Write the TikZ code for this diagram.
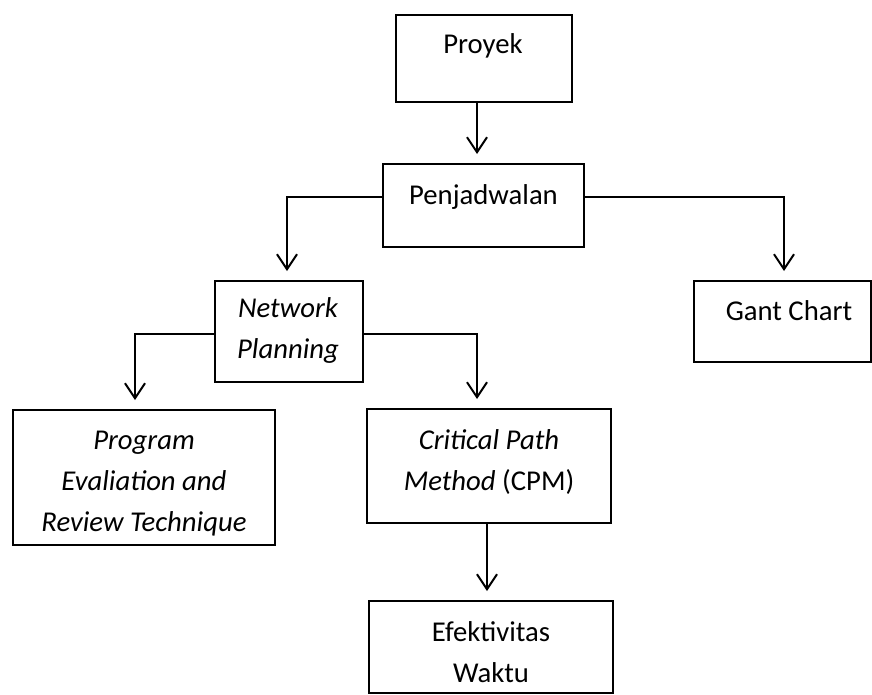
\documentclass[tikz,border=0pt]{standalone}
\usepackage{fontspec}
\setmainfont{Carlito}
\usetikzlibrary{arrows.meta}
\begin{document}
\begin{tikzpicture}[x=1pt,y=-1pt,
  box/.style={draw,line width=2pt,inner sep=0pt},
  lbl/.style={font=\fontsize{28.7}{41}\selectfont,align=center,inner sep=0pt,anchor=base},
  conn/.style={line width=2pt},
  arr/.style={line width=2pt,-{Straight Barb[length=15pt,width=20pt]},shorten >=9pt}]
\useasboundingbox (0,0) rectangle (872,694);
% boxes
\node[box,minimum width=176pt,minimum height=87pt] (proyek) at (484,58.5) {};
\node[box,minimum width=201pt,minimum height=83pt] (pen) at (483.5,205.5) {};
\node[box,minimum width=148pt,minimum height=101pt] (net) at (289,331.5) {};
\node[box,minimum width=177pt,minimum height=81pt] (gant) at (782,321.5) {};
\node[box,minimum width=262pt,minimum height=135pt] (prog) at (144,477.5) {};
\node[box,minimum width=244pt,minimum height=114pt] (cpm) at (489,466) {};
\node[box,minimum width=244pt,minimum height=92pt] (efek) at (491,647) {};
% texts (anchor = baseline of the last line)
\node[lbl] (tproyek) at (483,53) {Proyek};
\node[lbl] (tpen) at (483.5,204) {Penjadwalan};
\node[lbl] (tnet) at (288,358) {\itshape Network\\\itshape Planning};
\node[lbl] (tgant) at (789,320) {Gant Chart};
\node[lbl] (tprog) at (144,531) {\itshape Program\\\itshape Evaliation and\\\itshape Review Technique};
\node[lbl] (tcpm) at (489,490) {\itshape Critical Path\\\textit{Method} (CPM)};
\node[lbl] (tefek) at (491,682) {Efektivitas\\Waktu};
% connectors
\draw[arr] ([xshift=-7pt]proyek.south) -- ([xshift=-7pt]proyek.south |- pen.north);
\draw[arr] ([yshift=8.5pt]pen.west) -| ([xshift=-2pt]net.north);
\draw[arr] ([yshift=8.5pt]pen.east) -| ([xshift=2pt]gant.north);
\draw[arr] ([yshift=-2.5pt]net.west) -| ([xshift=-9pt]prog.north);
\draw[arr] ([yshift=-2.5pt]net.east) -| ([xshift=-12pt]cpm.north);
\draw[arr] ([xshift=-2pt]cpm.south) -- ([xshift=-2pt]cpm.south |- efek.north);
\end{tikzpicture}
\end{document}
